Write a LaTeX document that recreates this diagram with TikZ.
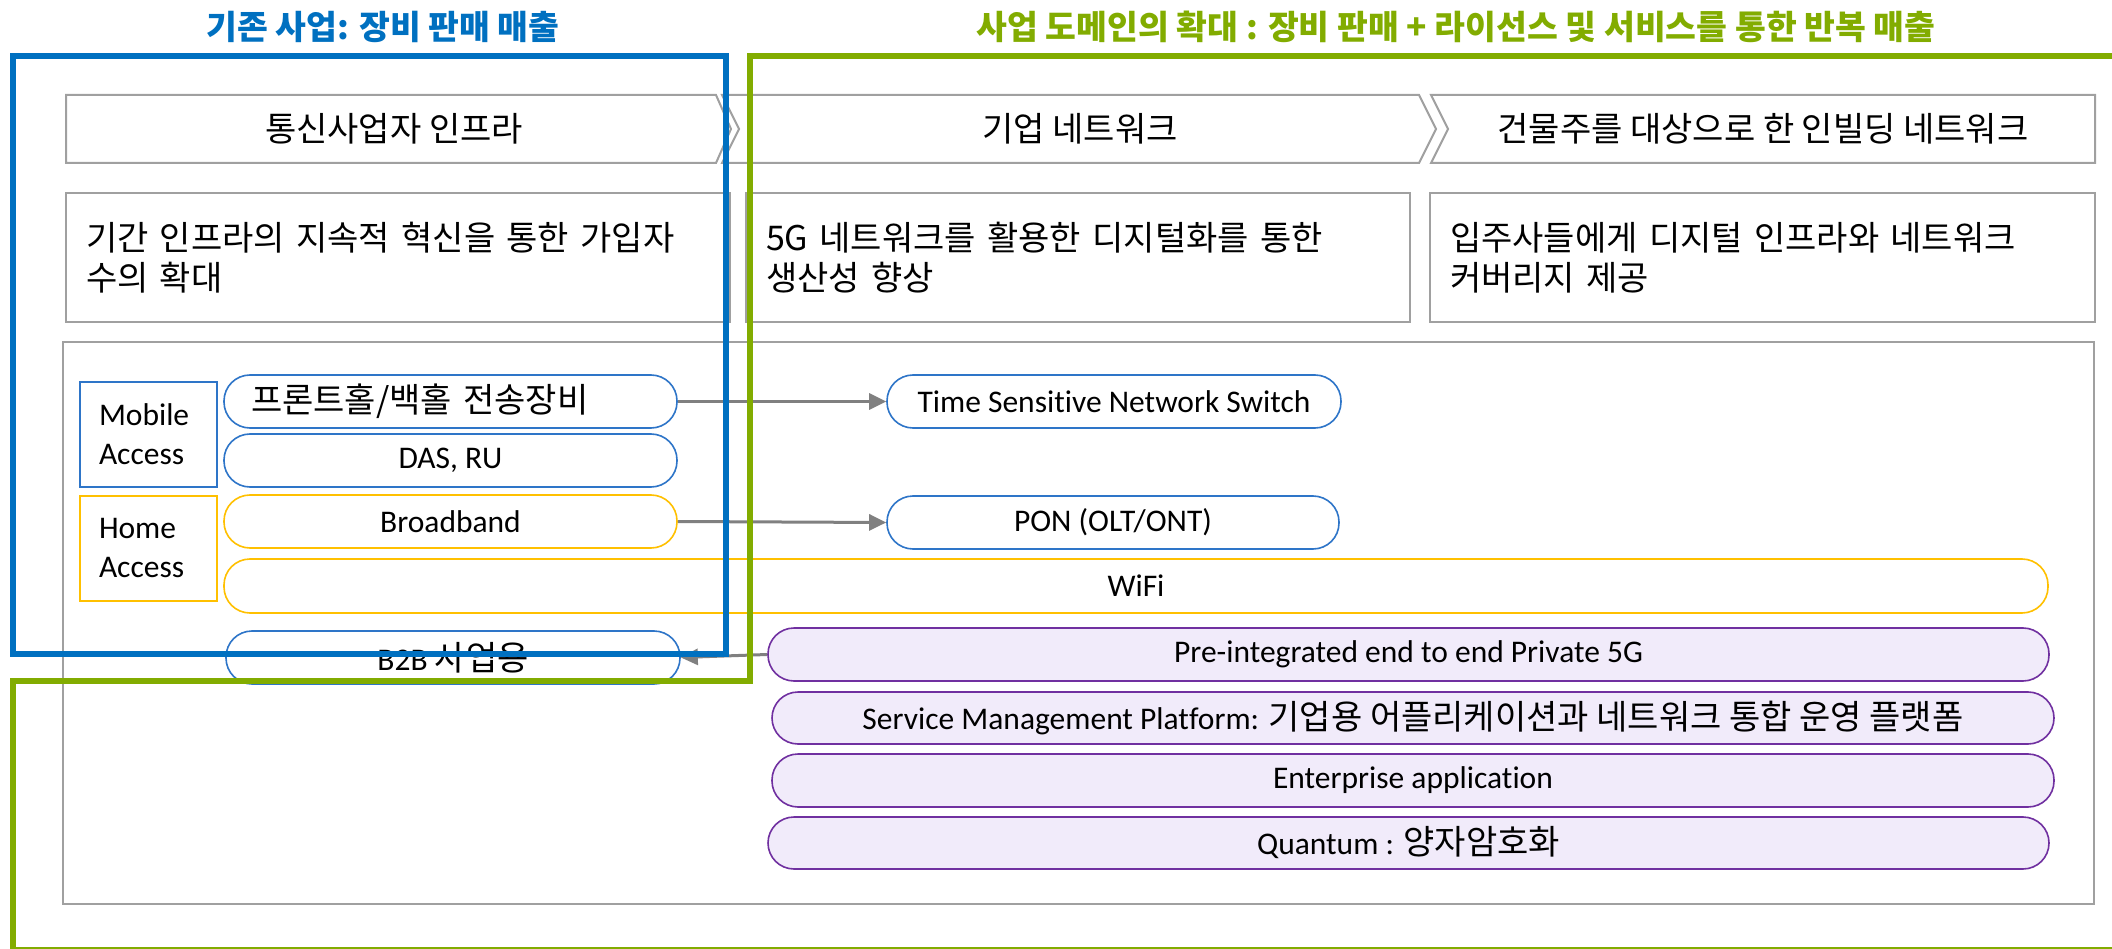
\documentclass[tikz,border=0pt]{standalone}
\usepackage{fontspec}
\setmainfont{Carlito}[Ligatures=NoCommon]
\newfontfamily\kr{Noto Sans CJK KR}
\usetikzlibrary{arrows.meta}
\definecolor{bizblue}{RGB}{0,112,192}
\definecolor{bizgreen}{RGB}{130,172,0}
\definecolor{edgegray}{RGB}{160,160,160}
\definecolor{pillblue}{RGB}{46,117,200}
\definecolor{pillyellow}{RGB}{255,192,0}
\definecolor{pillpurple}{RGB}{112,48,160}
\definecolor{lavender}{RGB}{241,235,250}
\definecolor{arrowgray}{RGB}{128,128,128}

\begin{document}
\begin{tikzpicture}[x=1pt,y=-1pt,
  every node/.style={font=\fontsize{31.5}{39}\selectfont, inner sep=0pt},
  hangul/.style={font=\kr\fontsize{34}{40}\selectfont},
  headline/.style={font=\kr\bfseries\fontsize{33.5}{39}\selectfont},
  pill/.style={draw, line width=1.6pt, rounded corners=26pt, minimum height=53pt, align=center},
  bluepill/.style={pill, draw=pillblue, fill=white},
  yellowpill/.style={pill, draw=pillyellow, fill=white},
  purplepill/.style={pill, draw=pillpurple, fill=lavender},
  tagbox/.style={draw, line width=1.6pt, minimum height=105pt, text width=99pt, inner xsep=19pt, align=left},
  descbox/.style={hangul, draw=edgegray, line width=2pt, minimum height=129pt, inner xsep=20pt, align=left},
  stage/.style={draw=edgegray, line width=2pt, fill=white},
  flow/.style={draw=arrowgray, line width=3pt, -{Triangle[length=17pt,width=16pt]}},
  band/.style={line width=6pt, line join=miter}
]
\useasboundingbox (0,0) rectangle (2112,949);
\clip (0,0) rectangle (2112,949);

% headings
\node[headline, text=bizblue] (headold) at (383,27) {기존 사업: 장비 판매 매출};
\node[headline, text=bizgreen] (headnew) at (1456,27) {사업 도메인의 확대 : 장비 판매 + 라이선스 및 서비스를 통한 반복 매출};

% value-chain stages
\draw[stage] (66,95) -- (716,95) -- (731,129) -- (716,163) -- (66,163) -- cycle;
\draw[stage] (722,95) -- (1419,95) -- (1436,129) -- (1419,163) -- (722,163) -- (739,129) -- cycle;
\draw[stage] (1431,95) -- (2095,95) -- (2095,163) -- (1431,163) -- (1448,129) -- cycle;
\node[hangul] (stage1) at (394,129) {통신사업자 인프라};
\node[hangul] (stage2) at (1080,129) {기업 네트워크};
\node[hangul] (stage3) at (1763,129) {건물주를 대상으로 한 인빌딩 네트워크};

% stage descriptions
\node[descbox, text width=624pt] (desc1) at (398,257.5) {기간 인프라의 지속적 혁신을 통한 가입자\\수의 확대};
\node[descbox, text width=624pt] (desc2) at (1078,257.5) {5G 네트워크를 활용한 디지털화를 통한\\생산성 향상};
\node[descbox, text width=625pt] (desc3) at (1762.5,257.5) {입주사들에게 디지털 인프라와 네트워크\\커버리지 제공};

% product area
\draw[draw=edgegray, line width=2pt] (63,342) rectangle (2094,904);

\node[tagbox, draw=pillblue] (mobile) at (148.5,434.5) {Mobile\\Access};
\node[tagbox, draw=pillyellow] (home) at (148.5,548.5) {Home\\Access};

\node[bluepill, minimum width=453pt, text width=399pt, inner xsep=27pt, align=left,
      font=\kr\fontsize{34}{40}\selectfont] (fronthaul) at (450.5,401.5) {프론트홀/백홀 전송장비};
\node[bluepill, minimum width=453pt] (dasru) at (450.5,460.5) {DAS, RU};
\node[yellowpill, minimum width=453pt] (broadband) at (450.5,521.5) {Broadband};
\node[yellowpill, minimum width=1824pt, minimum height=54pt] (wifi) at (1136,586) {WiFi};
\node[bluepill, minimum width=454pt] (b2b) at (453,657.5) {B2B {\kr\fontsize{34}{40}\selectfont 사업용}};

\node[bluepill, minimum width=454pt] (tsn) at (1114,401.5) {Time Sensitive Network Switch};
\node[bluepill, minimum width=452pt] (pon) at (1113,522.5) {PON (OLT/ONT)};

\node[purplepill, minimum width=1281pt] (private5g) at (1408.5,654.5) {Pre-integrated end to end Private 5G};
\node[purplepill, minimum width=1282pt, minimum height=52pt] (smp) at (1413,718) {Service Management Platform: {\kr\fontsize{34}{40}\selectfont 기업용 어플리케이션과 네트워크 통합 운영 플랫폼}};
\node[purplepill, minimum width=1282pt] (entapp) at (1413,780.5) {Enterprise application};
\node[purplepill, minimum width=1281pt, minimum height=52pt] (quantum) at (1408.5,843) {Quantum : {\kr\fontsize{34}{40}\selectfont 양자암호화}};

% evolution arrows
\draw[flow] (fronthaul.east) -- (tsn.west);
\draw[flow] (broadband.east) -- (pon.west);
\draw[flow] (private5g.west) -- (b2b.east);

% business scope frames
\draw[band, draw=bizblue] (13,56) rectangle (726,654);
\draw[band, draw=bizgreen] (750,56) -- (2130,56) -- (2130,950) -- (13,950) -- (13,681) -- (750,681) -- cycle;
\end{tikzpicture}
\end{document}
